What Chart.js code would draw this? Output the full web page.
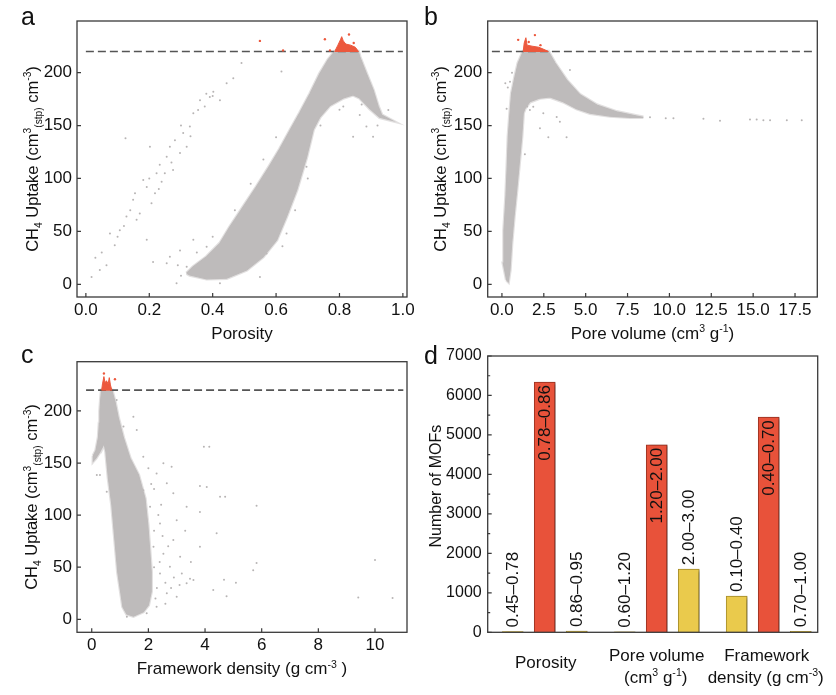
<!DOCTYPE html>
<html><head><meta charset="utf-8">
<script src="https://cdn.jsdelivr.net/npm/chart.js@4.4.1/dist/chart.umd.min.js"></script>
<style>
html,body{margin:0;padding:0;background:#fff;}
#wrap{position:relative;width:836px;height:695px;overflow:hidden;background:#fff;}
canvas{position:absolute;}
</style></head><body>
<div id="wrap">
<canvas id="ca" width="418" height="352" style="left:0;top:0"></canvas>
<canvas id="cb" width="418" height="352" style="left:418px;top:0"></canvas>
<canvas id="cc" width="418" height="355" style="left:0;top:340px"></canvas>
<canvas id="cd" width="418" height="355" style="left:418px;top:340px"></canvas>
</div>
<script>
// ---------------- data ----------------
const thresholdUptake = 220;
const uptakeTicks = [0, 50, 100, 150, 200];
const porosityTicks = [0, 0.2, 0.4, 0.6, 0.8, 1.0];
const poreVolumeTicks = [0, 2.5, 5, 7.5, 10, 12.5, 15, 17.5];
const densityTicks = [0, 2, 4, 6, 8, 10];
const mofCountTicks = [0, 1000, 2000, 3000, 4000, 5000, 6000, 7000];
const mofCountMinorTicks = [500, 1500, 2500, 3500, 4500, 5500, 6500];

// panel a: porosity vs uptake (outline of dense cloud, top-performer region, sparse points)
const porosityCloud = [[0.318,10.4],[0.339,16.6],[0.381,26],[0.423,38.7],[0.454,54],[0.496,73],[0.538,92],[0.58,112],[0.612,128],[0.645,146],[0.675,162],[0.707,180],[0.738,199],[0.764,212],[0.785,220],[0.859,220],[0.864,215],[0.885,199],[0.906,183.6],[0.922,168],[0.933,160],[0.964,155],[0.927,157.8],[0.896,166],[0.864,176],[0.843,179],[0.812,176],[0.770,169],[0.738,158],[0.717,146],[0.696,120],[0.665,89],[0.633,64],[0.602,42],[0.559,26],[0.507,13.5],[0.444,5.7],[0.381,5.2],[0.328,8.8]];
const porosityTop = [[0.785,220],[0.795,226],[0.803,231],[0.807,234],[0.812,230],[0.82,227],[0.835,226],[0.85,224],[0.86,220]];
const porosityTopPoints = [[0.549,230],[0.622,221],[0.754,231.5],[0.83,236],[0.845,228],[0.77,221]];
const porositySparse = [[0.018,7],[0.044,13.5],[0.065,18],[0.076,48],[0.091,37],[0.107,51],[0.128,64],[0.149,80],[0.155,86],[0.17,67],[0.181,98.5],[0.192,92],[0.207,76.5],[0.218,86],[0.223,105],[0.233,113],[0.239,97],[0.249,105],[0.255,120.6],[0.265,130],[0.275,108],[0.281,136],[0.297,124],[0.307,143],[0.318,130],[0.328,149],[0.339,161.6],[0.354,164.7],[0.36,174],[0.375,168],[0.391,177],[0.402,182],[0.423,174],[0.444,190],[0.465,194.6],[0.491,209],[0.617,201],[0.125,138],[0.202,130],[0.16,61],[0.192,42],[0.212,21],[0.255,20],[0.265,26],[0.297,32],[0.286,1],[0.318,16.6],[0.339,42],[0.381,35.5],[0.423,1],[0.622,64],[0.654,83],[0.675,105],[0.696,111],[0.633,48],[0.57,29],[0.549,7],[0.728,164.7],[0.78,174],[0.843,139.5],[0.864,160],[0.885,149],[0.906,139.5],[0.954,164.7],[0.812,168],[0.03,25],[0.05,30],[0.1,45],[0.12,55],[0.14,70],[0.2,100],[0.23,90],[0.27,115],[0.3,150],[0.33,140],[0.38,180],[0.4,178],[0.29,18],[0.3,8],[0.35,30],[0.4,45],[0.47,70],[0.52,95],[0.56,118],[0.6,139],[0.62,36],[0.66,70],[0.7,100],[0.74,150],[0.8,165],[0.87,170],[0.92,150]];

// panel b: pore volume vs uptake
const poreVolumeCloud = [[0.28,4],[0.08,20],[0.12,51],[0.24,83],[0.32,114],[0.38,139.5],[0.48,161.6],[0.58,180.5],[0.78,196],[0.97,209],[1.27,220],[2.77,220],[3.17,209],[3.86,193],[4.66,179],[5.66,169.4],[6.85,163],[8.05,159],[8.44,157.8],[7.65,157.8],[6.45,159],[5.26,161.6],[4.46,166],[3.66,172.5],[2.87,177],[2.27,176],[1.67,172.5],[1.37,166],[1.27,161.6],[1.18,139.5],[1.03,114],[0.88,89],[0.72,64],[0.58,38.7],[0.48,13.5],[0.38,2.5]];
const poreVolumeTop = [[1.27,220],[1.33,228],[1.43,233],[1.5,226],[1.8,225],[2.2,224],[2.5,222],[2.77,220]];
const poreVolumeTopPoints = [[0.97,231],[1.97,235.5],[1.6,229],[2.3,226]];
const poreVolumeSparse = [[8.84,157.8],[9.78,157],[10.24,157],[12.03,156.5],[13.02,154.6],[14.81,155.8],[15.21,155.8],[15.61,155],[16.01,155],[17.01,155],[17.9,155],[2.27,147.4],[2.77,139],[3.86,139],[1.37,123],[0.48,191.5],[0.28,166],[4.06,202.5],[3.27,158],[3.46,153.7],[1.67,164.7],[1.87,167.8],[2.47,161.6],[0.2,190],[0.35,186],[0.6,200],[1.1,170],[1.5,168]];

// panel c: framework density vs uptake
const densityCloud = [[0.056,157],[0.15,162],[0.24,175],[0.27,188],[0.29,200],[0.32,212],[0.35,220],[0.71,220],[0.82,209],[0.94,193],[1.12,174],[1.35,154.6],[1.65,138.5],[1.88,116],[1.98,90.5],[2.05,65],[2.1,45.7],[2.1,26.5],[2.0,13.7],[1.82,7.3],[1.47,3],[1.24,5],[1.1,12],[0.92,45],[0.71,110],[0.59,135],[0.5,161],[0.43,169],[0.4,167],[0.29,161],[0.15,155],[0.056,152]];
const densityTop = [[0.35,220],[0.38,226],[0.43,233],[0.47,227],[0.52,229],[0.58,226],[0.62,232],[0.66,225],[0.71,220]];
const densityTopPoints = [[0.82,230.4],[0.43,236]];
const densitySparse = [[10.0,57],[9.41,21],[10.62,20.4],[5.82,54],[5.7,47],[5.82,109],[5.09,35],[4.76,22],[4.67,38],[4.53,117.7],[4.71,117.7],[3.96,165.7],[4.15,165.7],[3.82,128],[4.06,127],[4.41,82.5],[4.29,28],[3.59,37.7],[3.35,34.5],[3.47,39],[3.18,44],[3.82,69.7],[3.82,103],[3.35,108],[2.88,121],[2.65,130.6],[2.82,146.5],[2.53,149.8],[2.29,140],[1.82,156],[1.59,181.7],[1.47,194.5],[1.12,185],[0.88,210.5],[2.41,92],[2.88,76],[3.12,60],[2.76,50.5],[2.53,63],[3.0,21.7],[2.65,25],[2.29,12],[1.94,5.8],[2.41,44],[2.18,69.7],[2.06,108],[1.82,124],[0.29,165.7],[0.18,138.5],[0.29,138.5],[0.53,122.5],[1.24,2.5],[2.6,35],[2.7,70],[3.0,95],[2.45,110],[2.2,125],[3.3,85],[2.9,40],[3.5,55],[2.3,30],[2.4,55],[2.2,85],[2.5,80],[2.35,100],[2.1,130],[2.0,145],[2.25,20],[2.6,15],[2.8,30],[3.1,33],[2.2,50]];

// panel d: number of top-performing MOFs per property range
const barGroups = ['Porosity', 'Pore volume', 'Framework density'];
const barRanges = ['0.45\u20130.78','0.78\u20130.86','0.86\u20130.95','0.60\u20131.20','1.20\u20132.00','2.00\u20133.00','0.10\u20130.40','0.40\u20130.70','0.70\u20131.00'];
const barValues = [20, 6340, 30, 15, 4750, 1600, 920, 5450, 25];
const barOptimal = [false, true, false, false, true, false, false, true, false];

// ---------------- drawing ----------------
const FONT = "'Liberation Sans', Arial, Helvetica, sans-serif";
const GRAY = '#bebbbb', GRAY_EDGE = 'rgba(190,187,187,0.45)', RED = '#ec583d', SPARSE = 'rgba(175,172,172,0.9)';
const TXT = '#111';

function toXY(a){ return a.map(p => ({x:p[0], y:p[1]})); }
function closed(a){ return toXY(a.concat([a[0]])); }

function drawRich(ctx, segs, x, y, size, rot){
  ctx.save();
  ctx.translate(x, y);
  if (rot) ctx.rotate(rot);
  const small = size * 0.62;
  let w = 0;
  const parts = segs.map(([t,k]) => {
    const fs = k ? small : size;
    ctx.font = fs + 'px ' + FONT;
    const mw = ctx.measureText(t).width;
    w += mw;
    return {t, k, fs, mw};
  });
  let cx = -w/2;
  ctx.fillStyle = TXT; ctx.textAlign = 'left'; ctx.textBaseline = 'alphabetic';
  const base = size * 0.36;
  parts.forEach(p => {
    ctx.font = p.fs + 'px ' + FONT;
    const dy = p.k === 1 ? -size*0.4 : (p.k === 2 ? size*0.22 : 0);
    ctx.fillText(p.t, cx, base + dy);
    cx += p.mw;
  });
  ctx.restore();
}

function makeDecor(d){
  return {
    id: 'decor',
    afterDraw(chart){
      const ctx = chart.ctx, a = chart.chartArea;
      const xs = chart.scales.x, ys = chart.scales.y;
      ctx.save();
      ctx.strokeStyle = '#3a3a3a'; ctx.lineWidth = 1.3;
      ctx.strokeRect(a.left, a.top, a.right - a.left, a.bottom - a.top);
      ctx.lineWidth = 1.2;
      ctx.beginPath();
      if (d.xTicks) d.xTicks.forEach(v => { const p = xs.getPixelForValue(v); ctx.moveTo(p, a.bottom); ctx.lineTo(p, a.bottom - 4); });
      d.yTicks.forEach(v => { const p = ys.getPixelForValue(v); ctx.moveTo(a.left, p); ctx.lineTo(a.left + 4, p); });
      if (d.yMinor) d.yMinor.forEach(v => { const p = ys.getPixelForValue(v); ctx.moveTo(a.left, p); ctx.lineTo(a.left + 2.5, p); });
      ctx.stroke();
      ctx.restore();
      ctx.save();
      ctx.font = '25px ' + FONT; ctx.fillStyle = TXT; ctx.textAlign = 'left'; ctx.textBaseline = 'alphabetic';
      ctx.fillText(d.letter, d.letterPos[0], d.letterPos[1]);
      ctx.restore();
      if (d.xTitle) drawRich(ctx, d.xTitle, (a.left + a.right)/2 + (d.xTitleDx||0), d.xTitleY, d.titleSize || 17, 0);
      if (d.yTitle) drawRich(ctx, d.yTitle, d.yTitleX, (a.top + a.bottom)/2 + (d.yTitleDy||0), d.yTitleSize || 16.5, -Math.PI/2);
      if (d.after) d.after(chart);
    }
  };
}

function scatterChart(id, c){
  const thr = thresholdUptake;
  return new Chart(document.getElementById(id), {
    type: 'scatter',
    data: { datasets: [
      {data: toXY(c.topPts), pointRadius: 1.2, pointBackgroundColor: RED, pointBorderWidth: 0, order: 0},
      {data: closed(c.top), showLine: true, fill: 'shape', backgroundColor: RED, borderColor: RED, borderWidth: 1, pointRadius: 0, order: 1},
      {data: [{x:c.dash[0], y:thr},{x:c.dash[1], y:thr}], showLine: true, fill: false, borderColor: '#555', borderWidth: 1.7, borderDash: [8,4], pointRadius: 0, order: 2},
      {data: closed(c.cloud), showLine: true, fill: 'shape', backgroundColor: GRAY, borderColor: GRAY, borderWidth: 1.2, pointRadius: 0, order: 3},
      {data: closed(c.cloud), showLine: true, fill: false, borderColor: GRAY_EDGE, borderWidth: 3.5, pointRadius: 0, order: 4},
      {data: toXY(c.sparse), pointRadius: 1, pointBackgroundColor: SPARSE, pointBorderWidth: 0, order: 5}
    ]},
    options: {
      responsive: false, animation: false, events: [],
      layout: {padding: {left: 0, top: c.area.t, right: c.W - c.area.r, bottom: 0}},
      plugins: {legend: {display: false}, tooltip: {enabled: false}},
      scales: {
        x: {type: 'linear', min: c.xMin, max: c.xMax,
            grid: {display: false, drawTicks: false}, border: {display: false},
            ticks: {padding: 3, maxRotation: 0, autoSkip: false, color: TXT, font: {family: FONT, size: 17}, callback: c.xFmt},
            afterBuildTicks: s => { s.ticks = c.xTicks.map(v => ({value: v})); },
            afterFit: s => { s.height = c.H - c.area.b; }},
        y: {type: 'linear', min: c.yMin, max: c.yMax,
            grid: {display: false, drawTicks: false}, border: {display: false},
            ticks: {padding: c.yPad, color: TXT, font: {family: FONT, size: 17}},
            afterBuildTicks: s => { s.ticks = uptakeTicks.map(v => ({value: v})); },
            afterFit: s => { s.width = c.area.l; }}
      }
    },
    plugins: [makeDecor({letter: c.letter, letterPos: c.letterPos, xTicks: c.xTicks, yTicks: uptakeTicks,
      xTitle: c.xTitle, xTitleY: c.xTitleY, yTitle: c.yTitle, yTitleX: c.yTitleX})]
  });
}

const uptakeTitle = [['CH',0],['4',2],[' Uptake (cm',0],['3',1],['(stp)',2],[' cm',0],['-3',1],[')',0]];

scatterChart('ca', {
  cloud: porosityCloud, top: porosityTop, topPts: porosityTopPoints, sparse: porositySparse,
  dash: [0, 1.0], xMin: -0.028, xMax: 1.013, xTicks: porosityTicks, xFmt: v => Number(v).toFixed(1),
  yMin: -12, yMax: 248.8, W: 418, H: 352, area: {l: 77, t: 21, r: 407, b: 297}, yPad: 5,
  letter: 'a', letterPos: [21, 25], xTitle: [['Porosity',0]], xTitleY: 333, yTitle: uptakeTitle, yTitleX: 32
});
scatterChart('cb', {
  cloud: poreVolumeCloud, top: poreVolumeTop, topPts: poreVolumeTopPoints, sparse: poreVolumeSparse,
  dash: [-0.6, 18.7], xMin: -0.85, xMax: 18.83, xTicks: poreVolumeTicks, xFmt: v => Number(v).toFixed(1),
  yMin: -12, yMax: 248.8, W: 418, H: 352, area: {l: 69.7, t: 21, r: 399.3, b: 297}, yPad: 5.5,
  letter: 'b', letterPos: [6, 25], xTitle: [['Pore volume (cm',0],['3',1],[' g',0],['-1',1],[')',0]], xTitleY: 333, yTitle: uptakeTitle, yTitleX: 22
});
scatterChart('cc', {
  cloud: densityCloud, top: densityTop, topPts: densityTopPoints, sparse: densitySparse,
  dash: [-0.2, 11.0], xMin: -0.52, xMax: 11.13, xTicks: densityTicks, xFmt: v => String(v),
  yMin: -12.5, yMax: 247.3, W: 418, H: 355, area: {l: 77, t: 21.7, r: 407, b: 292.3}, yPad: 5,
  letter: 'c', letterPos: [21, 23], xTitle: [['Framework density (g cm',0],['-3',1],[' )',0]], xTitleY: 328.3, yTitle: uptakeTitle, yTitleX: 31.5
});

// bar panel
const barColors = barOptimal.map(o => o ? '#e8523a' : '#eaca4c');
const barBorders = barOptimal.map(o => o ? '#9c3322' : '#a88f2c');
const barPositions = barValues.map((v, i) => Math.floor(i/3) + (i%3 - 1) * 0.286);
const shadowPlugin = {
  id: 'shadow',
  beforeDatasetsDraw(chart){ const c = chart.ctx; c.save(); c.shadowColor = 'rgba(0,0,0,0.45)'; c.shadowOffsetX = 3; c.shadowOffsetY = 1; c.shadowBlur = 3; },
  afterDatasetsDraw(chart){ chart.ctx.restore(); }
};
const catTitles = [
  [[['Porosity',0]]],
  [[['Pore volume',0]], [['(cm',0],['3',1],[' g',0],['-1',1],[')',0]]],
  [[['Framework',0]], [['density (g cm',0],['-3',1],[')',0]]]
];
new Chart(document.getElementById('cd'), {
  type: 'bar',
  data: { datasets: [{
    data: barValues.map((v, i) => ({x: barPositions[i], y: v})),
    backgroundColor: barColors, borderColor: barBorders, borderWidth: 1, barThickness: 21
  }]},
  options: {
    responsive: false, animation: false, events: [],
    layout: {padding: {left: 0, top: 16, right: 418 - 399.7, bottom: 0}},
    plugins: {legend: {display: false}, tooltip: {enabled: false}},
    scales: {
      x: {type: 'linear', offset: false, min: -0.509, max: 2.4375, grid: {display: false, drawTicks: false, offset: false}, border: {display: false},
          ticks: {display: false}, afterFit: s => { s.height = 355 - 292.3; }},
      y: {type: 'linear', min: 0, max: 7000, grid: {display: false, drawTicks: false}, border: {display: false},
          ticks: {padding: 6, color: TXT, font: {family: FONT, size: 16}, callback: v => String(v)},
          afterBuildTicks: s => { s.ticks = mofCountTicks.map(v => ({value: v})); },
          afterFit: s => { s.width = 69.7; }}
    }
  },
  plugins: [shadowPlugin, makeDecor({
    letter: 'd', letterPos: [6, 24], yTicks: mofCountTicks, yMinor: mofCountMinorTicks,
    yTitle: [['Number of MOFs',0]], yTitleX: 17, yTitleSize: 16, yTitleDy: -8,
    after(chart){
      const ctx = chart.ctx, meta = chart.getDatasetMeta(0), xs = chart.scales.x;
      ctx.save();
      ctx.fillStyle = TXT; ctx.font = '17px ' + FONT; ctx.textBaseline = 'middle';
      meta.data.forEach((bar, i) => {
        const {x, y} = bar.getProps(['x','y'], true);
        ctx.save();
        if (barOptimal[i]) { ctx.translate(x + 0.5, y + 3); ctx.rotate(-Math.PI/2); ctx.textAlign = 'right'; }
        else { ctx.translate(x + 0.5, y - 4); ctx.rotate(-Math.PI/2); ctx.textAlign = 'left'; }
        ctx.fillText(barRanges[i], 0, 0);
        ctx.restore();
      });
      ctx.restore();
      catTitles.forEach((lines, g) => {
        const cx = xs.getPixelForValue(g);
        if (lines.length === 1) drawRich(ctx, lines[0], cx + 1, 321.7, 17, 0);
        else lines.forEach((ln, j) => drawRich(ctx, ln, cx + (j ? -1 : 0) + (g === 2 ? -2 : 0), 315 + j * 21.5, 17, 0));
      });
    }
  })]
});
</script>
</body></html>
